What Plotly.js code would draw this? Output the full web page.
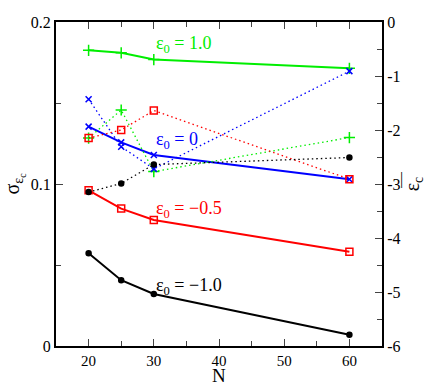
<!DOCTYPE html>
<html><head><meta charset="utf-8">
<script src="https://cdn.plot.ly/plotly-3.0.1.min.js"></script>
<style>body{margin:0;}#chart{width:436px;height:392px;}</style>
</head><body><div id="chart"></div>
<script>
const N = [20, 25, 30, 60];
// sigma (left axis), solid lines
const sigma_e1 = [0.1825, 0.181, 0.1768, 0.1714];
const sigma_e0 = [0.1354, 0.1257, 0.1179, 0.1029];
const sigma_em05 = [0.0961, 0.0848, 0.0778, 0.0582];
const sigma_em1 = [0.0572, 0.0406, 0.0321, 0.0070];
// eps_c (right axis), dotted lines
const eps_e1 = [-2.15, -1.63, -2.77, -2.14];
const eps_e0 = [-1.43, -2.31, -2.72, -0.91];
const eps_em05 = [-2.15, -2.0, -1.64, -2.91];
const eps_em1 = [-3.15, -2.99, -2.64, -2.51];
const labels = ['ε<sub>0</sub> = 1.0', 'ε<sub>0</sub> = 0', 'ε<sub>0</sub> = −0.5', 'ε<sub>0</sub> = −1.0'];
const colors = ['#00ee00', '#0000ff', '#ff0000', '#000000'];
const symbols = ['cross-thin-open', 'x-thin-open', 'square-open', 'circle'];
const sizes = [8, 6, 7, 5];
const sig = [sigma_e1, sigma_e0, sigma_em05, sigma_em1];
const eps = [eps_e1, eps_e0, eps_em05, eps_em1];

const traces = [];
for (let i = 0; i < 4; i++) {
  traces.push({x: N, y: eps[i], yaxis: 'y2', mode: 'lines+markers', type: 'scatter',
    line: {color: colors[i], width: 1.3, dash: '1.5px,3px'},
    marker: {symbol: symbols[i], size: sizes[i], color: colors[i], line: {color: colors[i], width: 1.5}}});
}
for (let i = 0; i < 4; i++) {
  traces.push({x: N, y: sig[i], mode: 'lines+markers', type: 'scatter',
    line: {color: colors[i], width: 2},
    marker: {symbol: symbols[i], size: sizes[i], color: colors[i], line: {color: colors[i], width: 1.5}}});
}
const labelPos = [[30, 0.186], [30, 0.127], [30, 0.0845], [30, 0.0365]];
const FAM = '"Liberation Serif", "Times New Roman", serif';
const annotations = labels.map((t, i) => ({x: labelPos[i][0], y: labelPos[i][1], xref: 'x', yref: 'y',
    text: t, showarrow: false, xanchor: 'left', yanchor: 'middle',
    font: {family: FAM, size: 18, color: colors[i]}}));
annotations.push({x: 0.5, y: -0.092, xref: 'paper', yref: 'paper', text: 'N', showarrow: false,
  xanchor: 'center', yanchor: 'middle', font: {family: FAM, size: 19, color: '#000'}});
annotations.push({x: 1.06, y: 0.515, xref: 'paper', yref: 'paper', text: '|', showarrow: false,
  xanchor: 'center', yanchor: 'middle', font: {family: FAM, size: 16, color: '#000'}});
const layout = {
  width: 436, height: 392,
  margin: {l: 56, r: 54, t: 22, b: 46},
  showlegend: false,
  paper_bgcolor: '#fff', plot_bgcolor: '#fff',
  font: {family: FAM, size: 15, color: '#000'},
  xaxis: {range: [15, 65], tickvals: [20, 30, 40, 50, 60], ticks: 'inside', ticklen: 7,
    tickfont: {family: FAM, size: 15},
    minor: {dtick: 5, ticks: 'inside', ticklen: 5}, showgrid: false, zeroline: false,
    showline: true, linecolor: '#000', linewidth: 2, mirror: 'ticks'},
  yaxis: {range: [0, 0.2], tickvals: [0, 0.1, 0.2], ticktext: ['0', '0.1', '0.2'], ticks: 'inside', ticklen: 7,
    tickfont: {family: FAM, size: 16},
    minor: {dtick: 0.05, ticks: 'inside', ticklen: 5}, showgrid: false, zeroline: false,
    showline: true, linecolor: '#000', linewidth: 2,
    title: {text: 'σ<sub>ε<sub>c</sub></sub>', font: {family: FAM, size: 20}, standoff: 6}},
  yaxis2: {range: [-6, 0], overlaying: 'y', side: 'right', tickvals: [0, -1, -2, -3, -4, -5, -6],
    ticktext: ['0', '-1', '-2', '-3', '-4', '-5', '-6'], ticks: 'inside', ticklen: 7,
    tickfont: {family: FAM, size: 16},
    minor: {dtick: 0.5, ticks: 'inside', ticklen: 5}, showgrid: false, zeroline: false,
    showline: true, linecolor: '#000', linewidth: 2,
    title: {text: 'ε<sub>c</sub>', font: {family: FAM, size: 20}, standoff: 4}},
  annotations: annotations
};
Plotly.newPlot('chart', traces, layout, {displayModeBar: false, staticPlot: true});
</script></body></html>
